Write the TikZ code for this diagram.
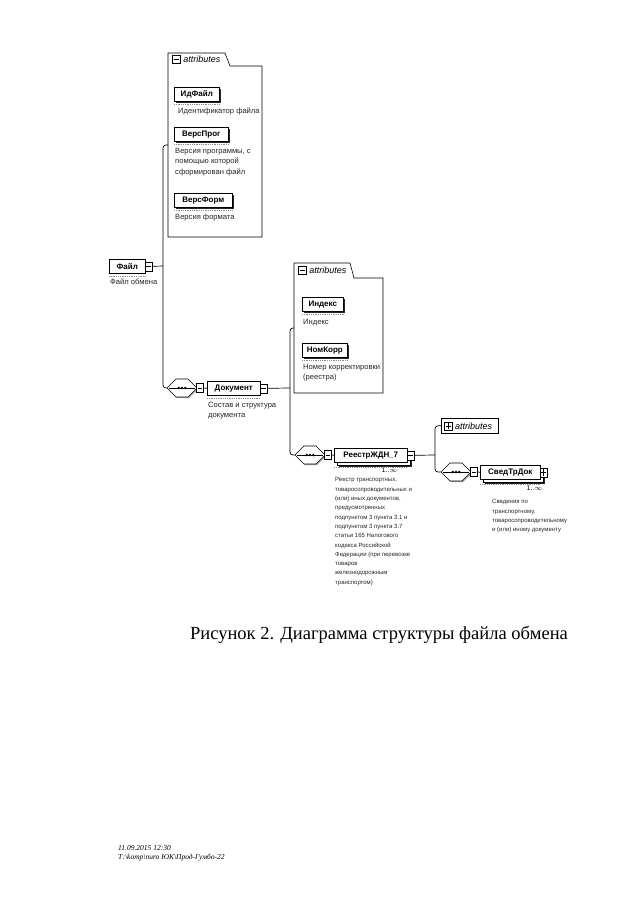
\documentclass[tikz,border=0pt]{standalone}
\usepackage{fontspec}
\setmainfont{Liberation Serif}
\setsansfont{Liberation Sans}
\usetikzlibrary{positioning,shapes.misc,shadows,calc}

\begin{document}
\begin{tikzpicture}[
  x=1pt, y=-1pt,
  ebox/.style={draw, fill=white, line width=0.6pt, anchor=north west, minimum height=14pt,
               inner sep=2pt, font=\sffamily\bfseries\fontsize{8}{9}\selectfont},
  elem/.style={ebox, drop shadow={shadow xshift=1.5pt, shadow yshift=-1.5pt, fill=black, opacity=0.85}},
  rep/.style={ebox, drop shadow={shadow xshift=4.5pt, shadow yshift=-4.5pt, fill=black, opacity=0.85},
              copy shadow={shadow xshift=3pt, shadow yshift=-3pt, draw=black, fill=white}},
  icon/.style={draw, fill=white, line width=0.5pt, minimum width=7pt, minimum height=9pt, inner sep=0pt},
  men/.style={icon, path picture={
      \draw ([xshift=1.3pt]path picture bounding box.west) -- ([xshift=-1.3pt]path picture bounding box.east);}},
  mas/.style={icon, path picture={
      \draw ([xshift=1.3pt]path picture bounding box.west) -- ([xshift=-1.3pt]path picture bounding box.east);
      \draw ([yshift=-1.3pt]path picture bounding box.north) -- ([yshift=1.3pt]path picture bounding box.south);}},
  seq/.style={draw, fill=white, line width=0.6pt, chamfered rectangle,
              chamfered rectangle xsep=4pt, chamfered rectangle ysep=5pt,
              inner xsep=11pt, inner ysep=4pt,
              drop shadow={shadow xshift=1pt, shadow yshift=-1pt, fill=black!60, opacity=0.6},
              path picture={
      \draw[line width=0.8pt] ([xshift=2pt]path picture bounding box.west) -- ([xshift=-2pt]path picture bounding box.east);
      \fill[black] (path picture bounding box.center) circle (1.4pt)
            ([xshift=-3.2pt]path picture bounding box.center) circle (1.4pt)
            ([xshift=3.2pt]path picture bounding box.center) circle (1.4pt);}},
  desc/.style={font=\sffamily\fontsize{6}{9.3}\selectfont, align=left, inner sep=0pt, text=black!85},
  descl/.style={desc, font=\sffamily\fontsize{7.6}{10.5}\selectfont},
  occ/.style={font=\sffamily\fontsize{7}{8}\selectfont, inner sep=0pt},
  att/.style={font=\sffamily\itshape\fontsize{9}{10}\selectfont, inner sep=0pt},
  tab/.style={draw, line width=0.6pt},
  conn/.style={line width=0.7pt, rounded corners=3pt},
  annot/.style={draw=black!45, densely dotted, line width=0.8pt}
]

\path[use as bounding box, fill=white] (0,0) rectangle (640,905);

% attributes of Файл
\draw[tab] (168,237) -- (168,53) -- (225,53) -- (230,66) -- (262,66) -- (262,237) -- cycle;
\node[men, minimum width=8pt, minimum height=8pt] (tabAico) at (176.5,59.5) {};
\node[att, right=2.5pt of tabAico] (tabA) {attributes};

\node[elem, minimum width=45pt] (idf) at (174,87) {ИдФайл};
\node[descl, below right=6pt and 4pt of idf.south west] (idfD) {Идентификатор файла};
\node[elem, minimum width=54pt] (vprog) at (174,127) {ВерсПрог};
\node[descl, below right=6pt and 1pt of vprog.south west] (vprogD)
  {Версия программы, с\\помощью которой\\сформирован файл};
\node[elem, minimum width=58pt] (vform) at (174,193) {ВерсФорм};
\node[descl, below right=6pt and 1pt of vform.south west] (vformD) {Версия формата};

% Файл
\node[ebox, minimum width=36pt] (file) at (109,259) {Файл};
\node[men, right=-1pt of file.east] (fIco) {};
\node[descl, below right=5pt and 1pt of file.south west] (fileD) {Файл обмена};

% Документ
\node[seq] (seqA) at (182,388) {};
\node[men, right=-1pt of seqA.east] (sAico) {};
\node[ebox, minimum width=53pt] (doc) at (207,381) {Документ};
\node[men, right=-1pt of doc.east] (dIco) {};
\node[descl, below right=6pt and 1pt of doc.south west] (docD) {Состав и структура\\документа};

% attributes of Документ
\draw[tab] (294,393) -- (294,263) -- (350,263) -- (354,278) -- (383,278) -- (383,393) -- cycle;
\node[men, minimum width=8pt, minimum height=8pt] (tabBico) at (302.5,270) {};
\node[att, right=2.5pt of tabBico] (tabB) {attributes};

\node[elem, minimum width=41pt] (idx) at (302,297) {Индекс};
\node[descl, below right=7pt and 1pt of idx.south west] (idxD) {Индекс};
\node[elem, minimum width=45pt] (nomk) at (302,343) {НомКорр};
\node[descl, below right=6pt and 1pt of nomk.south west] (nomkD) {Номер корректировки\\(реестра)};

% РеестрЖДН_7
\node[seq] (seqB) at (310,455) {};
\node[men, right=-1pt of seqB.east] (sBico) {};
\node[rep, minimum width=73pt] (reg) at (334,448) {РеестрЖДН\_7};
\node[men, right=-1pt of reg.east] (rIco) {};
\node[occ, below left=5pt and 10pt of reg.south east] (regO) {1..$\infty$};
\node[desc, below right=15pt and 1pt of reg.south west] (regD)
  {Реестр транспортных,\\товаросопроводительных и\\(или) иных документов,\\предусмотренных\\
   подпунктом 3 пункта 3.1 и\\подпунктом 3 пункта 3.7\\статьи 165 Налогового\\кодекса Российской\\
   Федерации (при перевозке\\товаров\\железнодорожным\\транспортом)};

% attributes of РеестрЖДН_7
\node[tab, fill=white, anchor=north west, minimum width=57pt, minimum height=15pt,
      drop shadow={shadow xshift=1pt, shadow yshift=-1pt, fill=black!60, opacity=0.6}] (attC) at (441,418) {};
\node[mas, minimum width=8pt, minimum height=8pt, right=3pt of attC.west] (attCico) {};
\node[att, right=2.5pt of attCico] (tabC) {attributes};

% СведТрДок
\node[seq] (seqC) at (456,472) {};
\node[men, right=-1pt of seqC.east] (sCico) {};
\node[rep, minimum width=60pt] (sved) at (480,465) {СведТрДок};
\node[mas, right=-1pt of sved.east] (svIco) {};
\node[occ, below left=6pt and -2pt of sved.south east] (svedO) {1..$\infty$};
\node[desc, below right=20pt and 12pt of sved.south west] (svedD)
  {Сведения по\\транспортному,\\товаросопроводительному\\и (или) иному документу};

% connectors
\coordinate (attA) at (168,145);
\coordinate (jA) at (163,266);
\coordinate (attB) at (294,328);
\coordinate (jB) at (290,388);
\coordinate (jC) at (435,455);

\draw[conn] (fIco.east) -- (jA);
\draw[conn] (attA) -| (jA) |- (seqA.west);
\draw[conn] (sAico.east) -- (doc.west);
\draw[conn] (dIco.east) -- (jB);
\draw[conn] (attB) -| (jB) |- (seqB.west);
\draw[conn] (sBico.east) -- (reg.west);
\draw[conn] (rIco.east) -- (jC);
\draw[conn] (attC.west) -| (jC) |- (seqC.west);
\draw[conn] (sCico.east) -- (sved.west);

% dotted annotation lines
\draw[annot] ([yshift=-2.5pt]idf.south west) -- ([yshift=-2.5pt]idf.south east);
\draw[annot] ([yshift=-2.5pt]vprog.south west) -- ([yshift=-2.5pt]vprog.south east);
\draw[annot] ([yshift=-2.5pt]vform.south west) -- ([yshift=-2.5pt]vform.south east);
\draw[annot] ([yshift=-2.5pt]file.south west) -- ([yshift=-2.5pt]file.south east);
\draw[annot] ([yshift=-2.5pt]doc.south west) -- ([yshift=-2.5pt]doc.south east);
\draw[annot] ([yshift=-2.5pt]idx.south west) -- ([yshift=-2.5pt]idx.south east);
\draw[annot] ([yshift=-2.5pt]nomk.south west) -- ([yshift=-2.5pt]nomk.south east);
\draw[annot] ([yshift=-4.5pt]reg.south west) -- ([yshift=-4.5pt]reg.south east);
\draw[annot] ([yshift=-4.5pt]sved.south west) -- ([yshift=-4.5pt]sved.south east);

% caption and footer
\node[font=\fontsize{18.5}{22}\selectfont] (cap) at (379,635) {Рисунок 2. Диаграмма структуры файла обмена};
\node[font=\itshape\fontsize{7.5}{9}\selectfont, align=left, anchor=north west, inner sep=0pt] (foot)
  at (118,845) {11.09.2015 12:30\\Т:\textbackslash komp\textbackslash nuro ЮК\textbackslash Прод-Гумбо-22};

\end{tikzpicture}
\end{document}
